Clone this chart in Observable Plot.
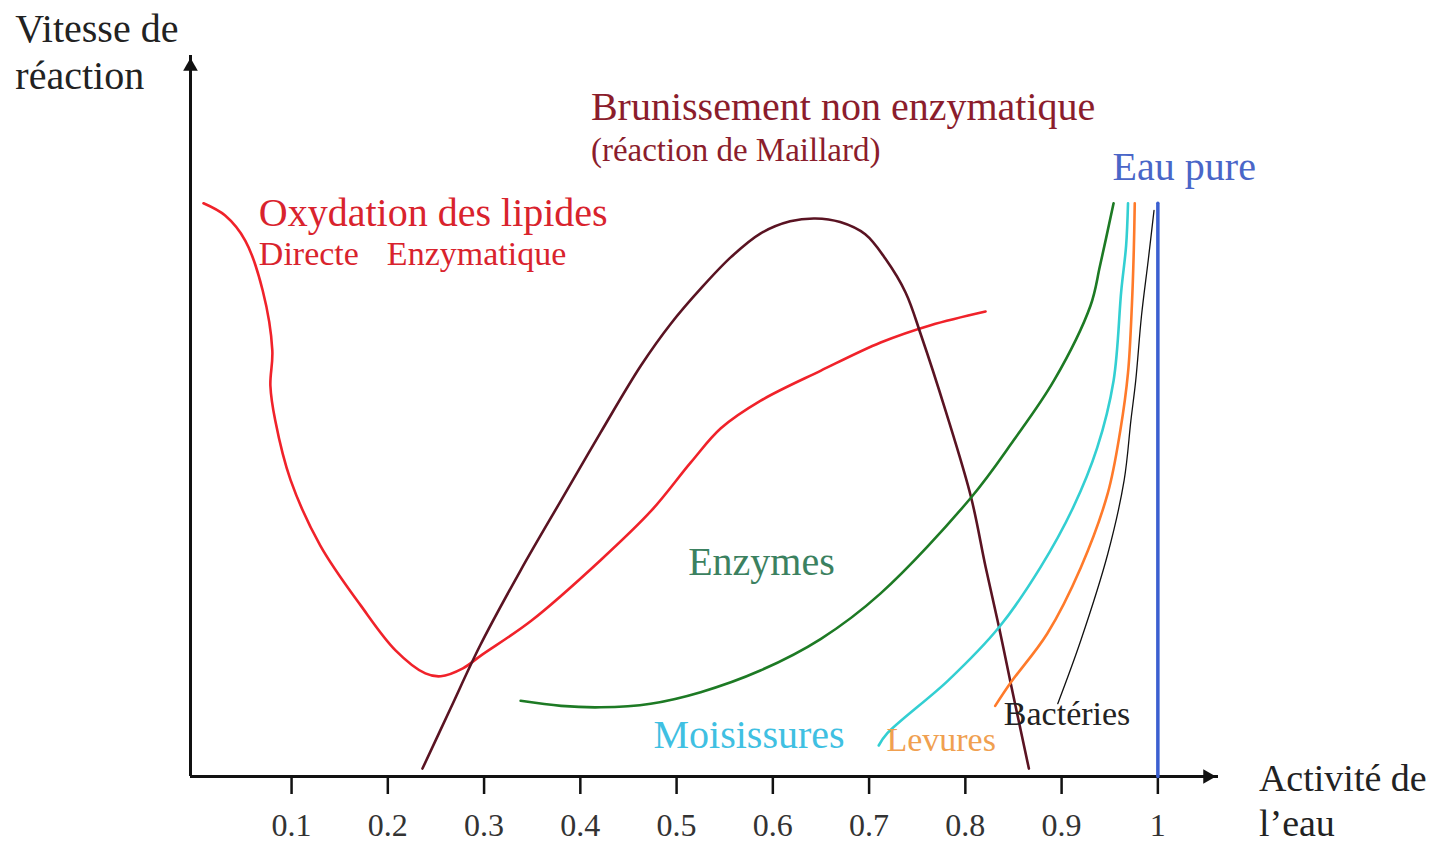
<!DOCTYPE html>
<html>
<head>
<meta charset="utf-8">
<script src="https://cdn.jsdelivr.net/npm/d3@7"></script>
<script src="https://cdn.jsdelivr.net/npm/@observablehq/plot@0.6"></script>
<style>
  html, body { margin: 0; padding: 0; background: #fff; }
  #chart svg { display: block; }
</style>
</head>
<body>
<div id="chart"></div>
<script>
// ---- Data (x = activité de l'eau, y = vitesse relative, arbitrary units) ----
const xTicks = [0.1, 0.2, 0.3, 0.4, 0.5, 0.6, 0.7, 0.8, 0.9, 1];
const xTickLabels = ["0.1", "0.2", "0.3", "0.4", "0.5", "0.6", "0.7", "0.8", "0.9", "1"];

const oxydation = [
  [0.0085, 79.5], [0.031, 77.8], [0.052, 74.3], [0.070, 67.4], [0.080, 59.1],
  [0.078, 54.2], [0.083, 49.4], [0.099, 41.1], [0.130, 32.0], [0.172, 23.7],
  [0.208, 17.5], [0.239, 14.3], [0.255, 13.9], [0.278, 15.0], [0.297, 16.8],
  [0.349, 21.6], [0.421, 30.0], [0.474, 36.9], [0.515, 43.6], [0.546, 48.3],
  [0.587, 52.1], [0.650, 56.3], [0.712, 60.2], [0.764, 62.6], [0.821, 64.5]
];
const maillard = [
  [0.236, 1.1], [0.265, 9.4], [0.296, 18.2], [0.338, 28.6], [0.380, 38.3],
  [0.421, 47.7], [0.463, 57.0], [0.494, 62.8], [0.526, 67.8], [0.557, 72.1],
  [0.587, 75.3], [0.618, 77.0], [0.644, 77.4], [0.670, 76.9], [0.696, 75.2],
  [0.717, 71.8], [0.738, 67.1], [0.754, 61.2], [0.780, 50.5], [0.806, 38.7],
  [0.821, 29.1], [0.835, 20.7], [0.847, 13.0], [0.866, 1.1]
];
const enzymes = [
  [0.338, 10.5], [0.380, 9.8], [0.421, 9.6], [0.473, 10.1], [0.525, 11.7],
  [0.587, 14.7], [0.650, 19.1], [0.712, 25.4], [0.806, 38.7], [0.850, 46.6],
  [0.892, 54.9], [0.930, 65.3], [0.940, 70.9], [0.954, 79.5]
];
const moisissures = [
  [0.710, 4.3], [0.719, 6.0], [0.782, 13.3], [0.835, 20.7], [0.878, 29.0],
  [0.912, 37.3], [0.937, 45.6], [0.954, 54.9], [0.962, 67.4], [0.967, 73.6],
  [0.969, 79.5]
];
const levures = [
  [0.831, 9.8], [0.847, 13.0], [0.885, 19.8], [0.920, 29.0], [0.948, 39.3],
  [0.961, 48.0], [0.969, 56.0], [0.973, 65.3], [0.975, 73.0], [0.976, 79.5]
];
const bacteries = [
  [0.896, 10.1], [0.920, 18.9], [0.948, 30.9], [0.965, 41.1], [0.972, 49.4],
  [0.977, 54.9], [0.983, 63.9], [0.990, 71.6], [0.996, 78.5]
];
const eauPure = [[1.0, 0], [1.0, 79.5]];

// Axis titles: [text, x, y(last baseline), size]
const axisTitles = [
  ["Vitesse de\nréaction", -0.187, 95.3, 40],
  ["Activité de\nl’eau", 1.105, -8.2, 38]
];

// Annotation labels: [text, x, y(baseline), size, color]
const labels = [
  ["Brunissement non enzymatique", 0.411, 91.0, 40, "#8b1d2c"],
  ["(réaction de Maillard)", 0.411, 85.4, 33, "#8b1d2c"],
  ["Eau pure", 0.953, 82.7, 40, "#4a66c8"],
  ["Oxydation des lipides", 0.066, 76.4, 40, "#d9232d"],
  ["Directe", 0.066, 70.9, 34, "#d9232d"],
  ["Enzymatique", 0.199, 70.9, 34, "#d9232d"],
  ["Enzymes", 0.512, 27.9, 40, "#3b8160"],
  ["Moisissures", 0.476, 3.9, 40, "#3fc0e2"],
  ["Levures", 0.718, 3.6, 34, "#f0a050"],
  ["Bactéries", 0.840, 7.2, 34, "#222"]
];

const xMin = -0.005, xMax = 1.063, yMax = 100;

const pts = (arr) => arr.map(([x, y]) => ({x, y}));
const line = (arr, stroke, strokeWidth) =>
  Plot.line(pts(arr), {x: "x", y: "y", stroke, strokeWidth, curve: "catmull-rom"});

const chart = Plot.plot({
  width: 1447,
  height: 846,
  marginLeft: 190, marginRight: 229, marginTop: 55, marginBottom: 70,
  x: {domain: [xMin, xMax], range: [190, 1218], axis: null},
  y: {domain: [0, yMax], range: [776, 55], axis: null},
  style: {fontFamily: "'Liberation Serif', 'Times New Roman', serif", background: "#fff", color: "#222"},
  marks: [
    // axes
    Plot.ruleY([0], {x1: xMin, x2: xMax, stroke: "#111", strokeWidth: 3}),
    Plot.ruleX([xMin], {y1: 0, y2: yMax, stroke: "#111", strokeWidth: 3}),
    Plot.dot([{x: xMin, y: yMax}], {x: "x", y: "y", symbol: "triangle2", r: 7, fill: "#111", stroke: null, dy: 11}),
    Plot.dot([{x: xMax, y: 0}], {x: "x", y: "y", symbol: "triangle2", r: 7, fill: "#111", stroke: null, rotate: 90, dx: -11}),
    Plot.axisX(xTicks, {
      anchor: "bottom", tickSize: 18, tickPadding: 19, strokeWidth: 2.5, stroke: "#111",
      fontSize: 32, fill: "#333", label: null,
      tickFormat: (d) => xTickLabels[xTicks.indexOf(d)]
    }),
    // curves
    line(oxydation, "#f0222a", 2.6),
    line(maillard, "#5a1322", 2.6),
    line(enzymes, "#1d7a24", 2.6),
    line(moisissures, "#33cfd2", 2.6),
    line(levures, "#ff7a2a", 2.6),
    line(bacteries, "#111", 1.3),
    Plot.line(pts(eauPure), {x: "x", y: "y", stroke: "#3b5fd0", strokeWidth: 3.5}),
    // axis titles
    Plot.text(axisTitles, {
      x: (d) => d[1], y: (d) => d[2], text: (d) => d[0],
      fill: "#222", fontSize: (d) => d[3], lineHeight: 1.18,
      textAnchor: "start", lineAnchor: "bottom"
    }),
    // labels
    Plot.text(labels, {
      x: (d) => d[1], y: (d) => d[2], text: (d) => d[0],
      fill: (d) => d[4], fontSize: (d) => d[3],
      textAnchor: "start", lineAnchor: "bottom"
    })
  ]
});

document.getElementById("chart").appendChild(chart);
</script>
</body>
</html>
